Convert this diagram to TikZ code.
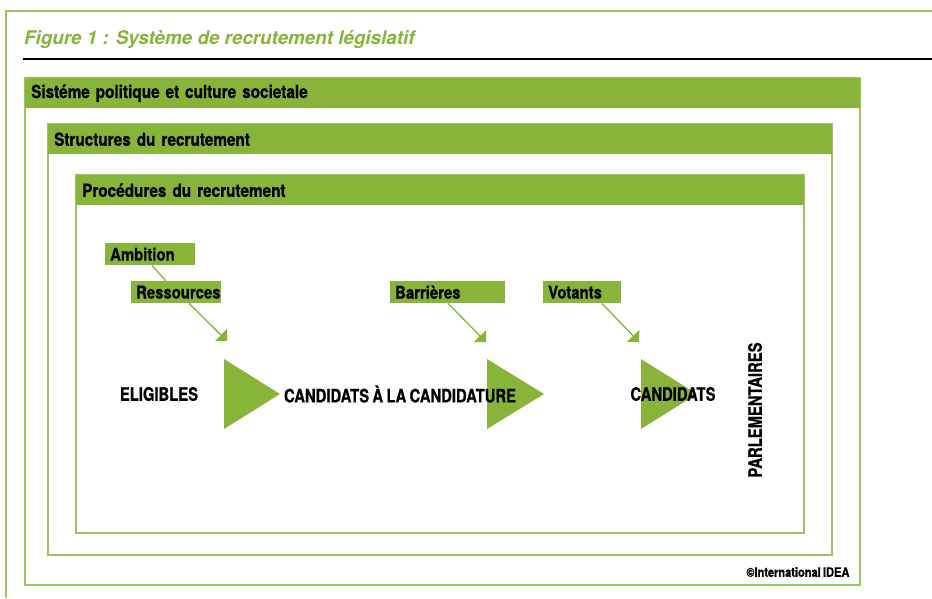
\documentclass[tikz,border=0pt]{standalone}
\usepackage{fontspec}
\setmainfont{TeX Gyre Heros}
\newfontfamily\condfont[FakeStretch=0.8,WordSpace=0.8,FakeBold=0.8]{TeX Gyre Heros}
\newfontfamily\labelfont[FakeStretch=0.85,WordSpace=0.75,FakeBold=0.8]{TeX Gyre Heros}
\usetikzlibrary{calc,arrows.meta,positioning}
\definecolor{idgreen}{RGB}{137,180,58}
\definecolor{idframe}{RGB}{155,196,90}

\begin{document}
\begin{tikzpicture}[x=1pt,y=-1pt,>={Triangle[length=8.5pt,width=17pt]},
  band/.style={fill=idgreen,anchor=north west,minimum height=30pt,inner xsep=6pt,inner ysep=0pt,
    text width=#1,align=left,font=\labelfont\bfseries\fontsize{18}{18}\selectfont},
  tagbox/.style={fill=idgreen,anchor=north west,minimum height=22pt,inner xsep=5pt,inner ysep=0pt,
    text width=#1,align=left,font=\labelfont\bfseries\fontsize{17.5}{17.5}\selectfont},
  stage/.style={font=\condfont\bfseries\fontsize{18.5}{18.5}\selectfont},
  frame/.style={draw=idframe,line width=1.5pt}]
  \useasboundingbox (0,0) rectangle (932,598);

  % Outer page frame and title rule
  \draw[idframe,line width=2pt] (932,10.5) -- (6,10.5) -- (6,598);
  \node[anchor=west,inner xsep=0pt,text=idgreen,font=\bfseries\itshape\fontsize{18.8}{18.8}\selectfont] (title) at (24,39)
    {Figure 1 : Système de recrutement législatif};
  \draw[line width=2pt] (23,59) -- (932,59);

  % Nested boxes with header bands
  \draw[frame] (25,78) rectangle (860,585);
  \node[band=823pt] (sys) at (25,78) {Sistéme politique et culture societale};
  \draw[frame] (48,124) rectangle (832,555);
  \node[band=772pt] (struct) at (48,124) {Structures du recrutement};
  \draw[frame] (76,175) rectangle (804,533);
  \node[band=716pt] (proc) at (76,175) {Procédures du recrutement};

  % Factors
  \node[tagbox=80pt]  (amb)  at (105,243) {Ambition};
  \node[tagbox=80pt]  (res)  at (131,281) {Ressources};
  \node[tagbox=105pt] (barr) at (390,281) {Barrières};
  \node[tagbox=68pt]  (vot)  at (543,281) {Votants};

  \coordinate (tip1) at (227,341);
  \coordinate (tip2) at (486,342);
  \coordinate (tip3) at (639,342);
  \draw[idgreen,line width=1.3pt] ($(amb.south west)+(47,0)$) -- ($(res.north west)+(35,0)$);
  \draw[idgreen,line width=1.3pt,->] ($(res.south west)+(58,0)$) -- (tip1);
  \draw[idgreen,line width=1.3pt,->] ($(barr.south west)+(58,0)$) -- (tip2);
  \draw[idgreen,line width=1.3pt,->] ($(vot.south west)+(59,0)$) -- (tip3);

  % Big stage arrows
  \fill[idgreen] (224,359) -- (280,394) -- (224,429) -- cycle;
  \fill[idgreen] (487,359) -- (544,394) -- (487,429) -- cycle;
  \fill[idgreen] (641,359) -- (697,394) -- (641,429) -- cycle;

  % Stages
  \node[stage] (elig) at (159,394) {ELIGIBLES};
  \node[stage] (aspir) at (400,394) {CANDIDATS À LA CANDIDATURE};
  \node[stage] (cand) at (673,394) {CANDIDATS};
  \node[stage,rotate=90] (parl) at (755,410) {PARLEMENTAIRES};

  \node[anchor=east,font=\labelfont\bfseries\fontsize{13}{13}\selectfont] (copy) at (853,572) {©International IDEA};
\end{tikzpicture}
\end{document}
